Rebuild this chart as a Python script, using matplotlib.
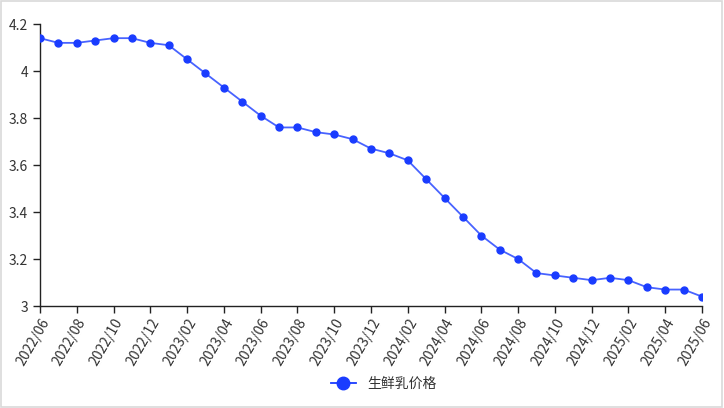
import matplotlib
matplotlib.use('Agg')
import matplotlib.pyplot as plt
from matplotlib.patches import Rectangle
from matplotlib.lines import Line2D

plt.rcParams['font.family'] = ['Noto Sans CJK SC', 'DejaVu Sans']

# Monthly data 2022/06 - 2025/06
months = ['2022/06', '2022/07', '2022/08', '2022/09', '2022/10', '2022/11', '2022/12',
          '2023/01', '2023/02', '2023/03', '2023/04', '2023/05', '2023/06', '2023/07',
          '2023/08', '2023/09', '2023/10', '2023/11', '2023/12', '2024/01', '2024/02',
          '2024/03', '2024/04', '2024/05', '2024/06', '2024/07', '2024/08', '2024/09',
          '2024/10', '2024/11', '2024/12', '2025/01', '2025/02', '2025/03', '2025/04',
          '2025/05', '2025/06']
prices = [4.14, 4.12, 4.12, 4.13, 4.14, 4.14, 4.12, 4.11, 4.05, 3.99, 3.93, 3.87, 3.81,
          3.76, 3.76, 3.74, 3.73, 3.71, 3.67, 3.65, 3.62, 3.54, 3.46, 3.38, 3.30, 3.24,
          3.20, 3.14, 3.13, 3.12, 3.11, 3.12, 3.11, 3.08, 3.07, 3.07, 3.04]
series_name = '生鲜乳价格'
yticks = [3, 3.2, 3.4, 3.6, 3.8, 4, 4.2]

text_color = '#333333'
line_color = '#1a3cff'

fig = plt.figure(figsize=(7.24, 4.08), dpi=100)
ax = fig.add_axes([0.0552, 0.25, 0.9144, 0.691])

x = list(range(len(months)))
ax.plot(x, prices, color=line_color, linewidth=1.3, alpha=0.8, zorder=2)
ax.plot(x, prices, linestyle='none', marker='o', markersize=5,
        color=line_color, zorder=3, label=series_name)

ax.set_xlim(0, len(months) - 1)
ax.set_ylim(3, 4.2)
ax.set_yticks(yticks)
ax.set_yticklabels(['3', '3.2', '3.4', '3.6', '3.8', '4', '4.2'])
ax.set_xticks(x[::2])
ax.set_xticklabels(months[::2], rotation=60, ha='right', rotation_mode='anchor')

for s in ['top', 'right']:
    ax.spines[s].set_visible(False)
for s in ['left', 'bottom']:
    ax.spines[s].set_color('#222222')
    ax.spines[s].set_linewidth(1.0)
ax.tick_params(axis='both', direction='out', length=5, width=1, colors='#222222',
               labelsize=10, labelcolor=text_color)
ax.tick_params(axis='x', pad=2)

# legend at bottom
handle = Line2D([], [], color=line_color, marker='o', markersize=9, linewidth=1.3)
fig.legend([handle], [series_name], loc='center', bbox_to_anchor=(0.53, 0.06),
           frameon=False, fontsize=10, handlelength=1.8, labelcolor=text_color)

# light border around the image
fig.patches.append(Rectangle((0.002, 0.003), 0.995, 0.994, transform=fig.transFigure,
                             fill=False, edgecolor='#d9d9d9', linewidth=1.2))

fig.savefig('out.png', dpi=100, facecolor='white')
